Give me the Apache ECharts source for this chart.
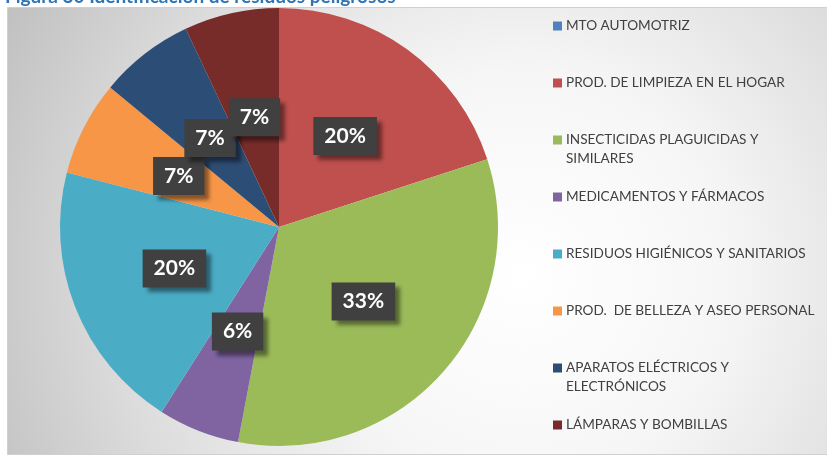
<!DOCTYPE html>
<html>
<head>
<meta charset="utf-8">
<script src="https://cdn.jsdelivr.net/npm/echarts@6/dist/echarts.min.js"></script>
<style>
  html, body { margin: 0; padding: 0; background: #ffffff; }
  #chart { width: 827px; height: 458px; }
</style>
</head>
<body>
<div id="chart"></div>
<script>
// Hazardous-waste categories and their share (%)
const categories = [
  'MTO AUTOMOTRIZ',
  'PROD. DE LIMPIEZA EN EL HOGAR',
  'INSECTICIDAS PLAGUICIDAS Y SIMILARES',
  'MEDICAMENTOS Y FÁRMACOS',
  'RESIDUOS HIGIÉNICOS Y SANITARIOS',
  'PROD.  DE BELLEZA Y ASEO PERSONAL',
  'APARATOS ELÉCTRICOS Y ELECTRÓNICOS',
  'LÁMPARAS Y BOMBILLAS'
];
const shares = [0, 20, 33, 6, 20, 7, 7, 7];
const sliceColors = ['#4F81BD', '#C0504D', '#9BBB59', '#8064A2', '#4BACC6', '#F79646', '#2C4D75', '#772C2A'];
const titleText = 'Figura 30 Identificación de residuos peligrosos';

const FONT = 'Lato, "Open Sans", sans-serif';
const LEGEND_FONT_SIZE = 13.6;
const LEGEND_WRAP = 258;

// Word-wrap legend labels to the legend column width
const measureCtx = document.createElement('canvas').getContext('2d');
measureCtx.font = LEGEND_FONT_SIZE + 'px ' + FONT;
function wrapLabel(text) {
  const words = text.split(' ');
  const lines = [];
  let cur = '';
  words.forEach(function (w) {
    const trial = cur === '' ? w : cur + ' ' + w;
    if (cur !== '' && w !== '' && measureCtx.measureText(trial).width > LEGEND_WRAP) {
      lines.push(cur);
      cur = w;
    } else {
      cur = trial;
    }
  });
  lines.push(cur);
  return lines;
}

const legendRich = {
  g: { width: 4 },
  ind: { width: 13 },
  t: { fontFamily: FONT, fontSize: LEGEND_FONT_SIZE, color: '#404040', lineHeight: 19 }
};
sliceColors.forEach(function (c, i) {
  legendRich['s' + i] = { width: 9, height: 9, backgroundColor: c, verticalAlign: 'middle' };
});

const chart = echarts.init(document.getElementById('chart'), null, { renderer: 'canvas' });

chart.setOption({
  animation: false,
  graphic: [
    {
      type: 'rect',
      z: 0,
      shape: { x: 7.5, y: 7.5, width: 830, height: 447 },
      style: {
        fill: new echarts.graphic.RadialGradient(0.62, 0.6, 1.3, [
          { offset: 0, color: '#ffffff' },
          { offset: 0.35, color: '#f6f6f6' },
          { offset: 0.7, color: '#dcdcdc' },
          { offset: 1, color: '#c0c0c0' }
        ]),
        stroke: '#d0d0d0',
        lineWidth: 1
      }
    },
    {
      type: 'text',
      z: 1,
      left: 5,
      top: -13,
      style: {
        text: titleText,
        fontFamily: FONT,
        fontWeight: 'bold',
        fontSize: 19,
        fill: '#2E75B6'
      }
    }
  ],
  legend: {
    orient: 'vertical',
    left: 543,
    top: 14,
    height: 520,
    itemWidth: 0,
    itemHeight: 0,
    itemGap: 24,
    selectedMode: false,
    data: categories,
    formatter: function (name) {
      const idx = categories.indexOf(name);
      const lines = wrapLabel(name);
      const first = '{s' + idx + '|}{g|}{t|' + lines[0] + '}';
      const second = lines.length > 1 ? '{ind|}{t|' + lines[1] + '}' : '{ind|}{t| }';
      return first + '\n' + second;
    },
    textStyle: { rich: legendRich }
  },
  series: [
    {
      type: 'pie',
      center: [279, 227],
      radius: ['0%', 219],
      startAngle: 90,
      clockwise: true,
      avoidLabelOverlap: false,
      labelLayout: { hideOverlap: false },
      itemStyle: { borderWidth: 0 },
      label: {
        show: true,
        position: 'inside',
        formatter: function (p) { return p.value + '%'; },
        fontFamily: FONT,
        fontWeight: 'bold',
        fontSize: 21,
        color: '#ffffff',
        backgroundColor: '#404040',
        padding: [9, 11, 8, 11],
        shadowColor: 'rgba(0,0,0,0.45)',
        shadowBlur: 4,
        shadowOffsetX: 5,
        shadowOffsetY: 5
      },
      labelLine: { show: false },
      emphasis: { disabled: true },
      data: categories.map(function (name, i) {
        const item = { name: name, value: shares[i], itemStyle: { color: sliceColors[i] } };
        if (shares[i] === 0) item.label = { show: false };
        return item;
      })
    }
  ]
});
</script>
</body>
</html>
